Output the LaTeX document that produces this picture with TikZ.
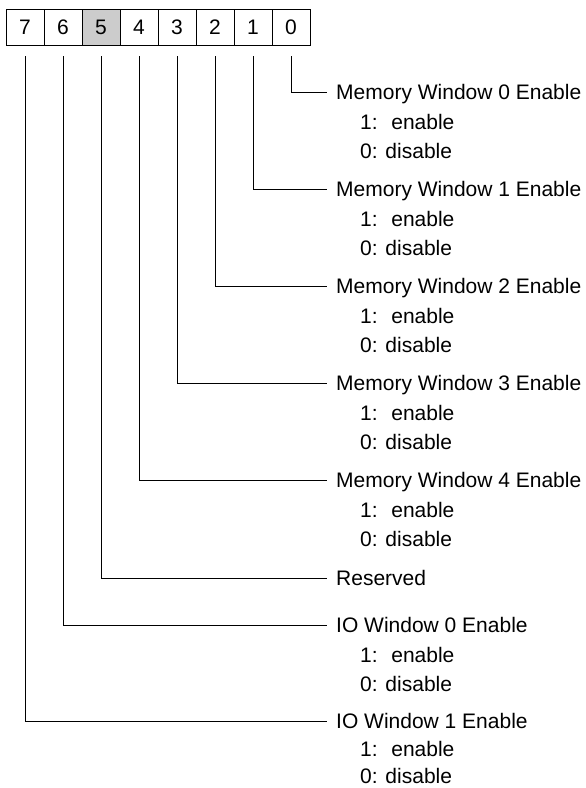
\documentclass[tikz,border=0pt]{standalone}
\usepackage{fontspec}
\setmainfont{Liberation Sans}
\usetikzlibrary{positioning}

\begin{document}
\begin{tikzpicture}[x=1pt,y=-1pt,node distance=0pt,
  bit/.style={draw,line width=0.9pt,minimum width=38pt,minimum height=36pt,
    inner sep=0pt,outer sep=0pt,font=\fontsize{21}{24}\selectfont},
  field/.style={anchor=west,inner xsep=9pt,inner ysep=0pt,text height=15pt,
    text depth=0pt,font=\fontsize{21}{24}\selectfont},
  opt/.style={anchor=west,inner sep=0pt,text height=15pt,text depth=0pt,
    font=\fontsize{21}{24}\selectfont},
  wire/.style={line width=0.9pt}]
\useasboundingbox (0,0) rectangle (586,788);

% register bits
\node[bit] (b7) at (25,27) {7};
\node[bit,right=of b7] (b6) {6};
\node[bit,right=of b6,fill=black!20] (b5) {5};
\node[bit,right=of b5] (b4) {4};
\node[bit,right=of b4] (b3) {3};
\node[bit,right=of b3] (b2) {2};
\node[bit,right=of b2] (b1) {1};
\node[bit,right=of b1] (b0) {0};

% field descriptions
\node[field] (m0) at (327,92) {Memory Window 0 Enable};
\node[opt] (m0a) at (360,122) {1:~ enable};
\node[opt] (m0b) at (360,151) {0: disable};
\node[field] (m1) at (327,189) {Memory Window 1 Enable};
\node[opt] (m1a) at (360,219) {1:~ enable};
\node[opt] (m1b) at (360,248) {0: disable};
\node[field] (m2) at (327,286) {Memory Window 2 Enable};
\node[opt] (m2a) at (360,316) {1:~ enable};
\node[opt] (m2b) at (360,345) {0: disable};
\node[field] (m3) at (327,383) {Memory Window 3 Enable};
\node[opt] (m3a) at (360,413) {1:~ enable};
\node[opt] (m3b) at (360,442) {0: disable};
\node[field] (m4) at (327,480) {Memory Window 4 Enable};
\node[opt] (m4a) at (360,510) {1:~ enable};
\node[opt] (m4b) at (360,539) {0: disable};
\node[field] (rsv) at (327,578) {Reserved};
\node[field] (io0) at (327,625) {IO Window 0 Enable};
\node[opt] (io0a) at (360,655) {1:~ enable};
\node[opt] (io0b) at (360,684) {0: disable};
\node[field] (io1) at (327,721) {IO Window 1 Enable};
\node[opt] (io1a) at (360,749) {1:~ enable};
\node[opt] (io1b) at (360,776) {0: disable};

% leader lines
\draw[wire] ([yshift=-11pt]b0.south) |- (m0.west);
\draw[wire] ([yshift=-11pt]b1.south) |- (m1.west);
\draw[wire] ([yshift=-11pt]b2.south) |- (m2.west);
\draw[wire] ([yshift=-11pt]b3.south) |- (m3.west);
\draw[wire] ([yshift=-11pt]b4.south) |- (m4.west);
\draw[wire] ([yshift=-11pt]b5.south) |- (rsv.west);
\draw[wire] ([yshift=-11pt]b6.south) |- (io0.west);
\draw[wire] ([yshift=-11pt]b7.south) |- (io1.west);
\end{tikzpicture}
\end{document}
